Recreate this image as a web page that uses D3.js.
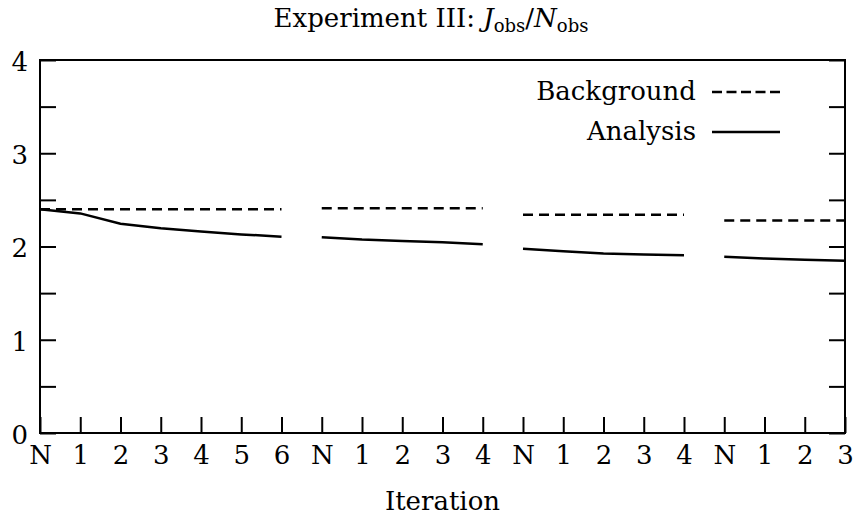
<!DOCTYPE html>
<html>
<head>
<meta charset="utf-8">
<script src="https://cdn.jsdelivr.net/npm/d3@7"></script>
<style>
  html, body { margin: 0; padding: 0; background: #fff; }
  svg { display: block; }
  text { font-family: "DejaVu Serif", "Liberation Serif", serif; fill: #000; white-space: pre; }
</style>
</head>
<body>
<script>
// Iteration labels along the x axis (four assimilation cycles)
const iterationLabels = ["N","1","2","3","4","5","6","N","1","2","3","4","N","1","2","3","4","N","1","2","3"];
// Cycle each iteration belongs to; lines break between cycles
const cycleIndex = [0,0,0,0,0,0,0,1,1,1,1,1,2,2,2,2,2,3,3,3,3];
// J_obs / N_obs for the background state
const backgroundValues = [2.40,2.40,2.40,2.40,2.40,2.40,2.40, 2.41,2.41,2.41,2.41,2.41, 2.34,2.34,2.34,2.34,2.34, 2.28,2.28,2.28,2.28];
// J_obs / N_obs for the analysis state
const analysisValues = [2.40,2.355,2.245,2.195,2.16,2.13,2.105, 2.10,2.075,2.06,2.045,2.025, 1.975,1.948,1.925,1.915,1.905, 1.89,1.87,1.857,1.847];
const yTickValues = [0,0.5,1,1.5,2,2.5,3,3.5,4];
const yLabelValues = [0,1,2,3,4];

const width = 855, height = 516;
const plotLeft = 40, plotRight = 845, plotTop = 60, plotBottom = 433;
const tickLen = 16;
const fontPx = 26;

const svg = d3.select("body").append("svg")
  .attr("width", width).attr("height", height);

const x = d3.scaleLinear().domain([0, iterationLabels.length - 1]).range([plotLeft, plotRight]);
const y = d3.scaleLinear().domain([0, 4]).range([plotBottom, plotTop]);

// Title with math-style subscripts
const title = svg.append("text")
  .attr("x", 431).attr("y", 27)
  .attr("text-anchor", "middle")
  .style("font-size", fontPx + "px");
title.append("tspan").text("Experiment III: ");
title.append("tspan").style("font-style", "italic").text("J");
title.append("tspan").style("font-size", "18px").attr("dy", 5).text("obs");
title.append("tspan").attr("dy", -5).text("/");
title.append("tspan").style("font-style", "italic").text("N");
title.append("tspan").style("font-size", "18px").attr("dy", 5).text("obs");

// Bottom axis: inward ticks, labels below
const xAxis = d3.axisBottom(x)
  .tickValues(d3.range(iterationLabels.length))
  .tickFormat(i => iterationLabels[i])
  .tickSize(-tickLen)
  .tickPadding(20);
const gx = svg.append("g").attr("transform", `translate(0,${plotBottom})`).call(xAxis);
gx.select(".domain").remove();
gx.selectAll(".tick line").attr("stroke", "#000").attr("stroke-width", 2);
gx.selectAll(".tick text").style("font-size", fontPx + "px").attr("font-family", null).attr("dy", "0.42em");

// Left axis: inward ticks every 0.5, labels at integers
const yAxisL = d3.axisLeft(y)
  .tickValues(yTickValues)
  .tickFormat(v => yLabelValues.includes(v) ? d3.format("d")(v) : "")
  .tickSize(-tickLen)
  .tickPadding(12);
const gyl = svg.append("g").attr("transform", `translate(${plotLeft},0)`).call(yAxisL);
gyl.select(".domain").remove();
gyl.selectAll(".tick line").attr("stroke", "#000").attr("stroke-width", 2);
gyl.selectAll(".tick text").style("font-size", fontPx + "px").attr("font-family", null).attr("dy", "0.4em");

// Right axis: mirrored inward ticks, no labels
const yAxisR = d3.axisRight(y)
  .tickValues(yTickValues)
  .tickFormat("")
  .tickSize(-tickLen);
const gyr = svg.append("g").attr("transform", `translate(${plotRight},0)`).call(yAxisR);
gyr.select(".domain").remove();
gyr.selectAll(".tick line").attr("stroke", "#000").attr("stroke-width", 2);

// Plot frame
svg.append("rect")
  .attr("x", plotLeft).attr("y", plotTop)
  .attr("width", plotRight - plotLeft).attr("height", plotBottom - plotTop)
  .attr("fill", "none").attr("stroke", "#000").attr("stroke-width", 2);

// Series lines, one path per cycle
const line = d3.line().x(d => x(d.i)).y(d => y(d.v));
const cycles = d3.groups(d3.range(iterationLabels.length), i => cycleIndex[i]).map(g => g[1]);

function drawSeries(values, dash) {
  svg.append("g").selectAll("path")
    .data(cycles)
    .join("path")
    .attr("d", idx => line(idx.map(i => ({ i, v: values[i] }))))
    .attr("fill", "none")
    .attr("stroke", "#000")
    .attr("stroke-width", 2.5)
    .attr("stroke-dasharray", dash);
}
drawSeries(backgroundValues, "10,6");
drawSeries(analysisValues, null);

// Legend
const legend = [
  { name: "Background", dash: "10,4.5", ly: 92, ty: 100 },
  { name: "Analysis", dash: null, ly: 132, ty: 140 }
];
const lg = svg.append("g");
lg.selectAll("text").data(legend).join("text")
  .attr("x", 696).attr("y", d => d.ty)
  .attr("text-anchor", "end")
  .style("font-size", fontPx + "px")
  .text(d => d.name);
lg.selectAll("line").data(legend).join("line")
  .attr("x1", 712).attr("x2", 780)
  .attr("y1", d => d.ly).attr("y2", d => d.ly)
  .attr("stroke", "#000").attr("stroke-width", 2.5)
  .attr("stroke-dasharray", d => d.dash);

// Axis title
svg.append("text")
  .attr("x", (plotLeft + plotRight) / 2).attr("y", 510)
  .attr("text-anchor", "middle")
  .style("font-size", fontPx + "px")
  .text("Iteration");
</script>
</body>
</html>
